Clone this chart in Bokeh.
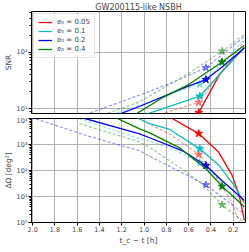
from bokeh.plotting import figure
from bokeh.models import Range1d, FixedTicker, NumeralTickFormatter, Legend, LegendItem
from bokeh.layouts import column
from bokeh.embed import file_html
from bokeh.resources import INLINE

# ---------------- data ----------------
labels = ["e₀ = 0.05", "e₀ = 0.1", "e₀ = 0.2", "e₀ = 0.4"]
colors = ["#ff0000", "#00bfbf", "#0000ff", "#008000"]

# SNR, solid (first network)
t_snr_r = [0.9, 0.51, 0.32, 0.1]
snr_r = [2.5, 8.5, 41, 122]
t_snr_c = [1.2, 0.97, 0.5, 0.32, 0.1]
snr_c = [5.5, 8.1, 16.6, 41, 122]
t_snr_b = [1.6, 1.28, 1.01, 0.62, 0.445, 0.30, 0.1]
snr_b = [4.5, 7.2, 11.6, 24.3, 32.7, 54.5, 119]
t_snr_g = [1.3, 1.07, 0.82, 0.61, 0.30, 0.1]
snr_g = [4.5, 8.1, 16.2, 26, 67, 133]

# SNR, dashed (second network)
t_snr_r_d = [1.2, 0.82, 0.51, 0.32, 0.1]
snr_r_d = [5, 8.3, 12.9, 41, 160]
t_snr_c_d = [1.58, 1.04, 0.7, 0.5, 0.3, 0.1]
snr_c_d = [5, 11.5, 20, 27, 62, 170]
t_snr_b_d = [2.0, 1.58, 1.04, 0.744, 0.445, 0.1]
snr_b_d = [4.2, 7.2, 17.4, 29, 53, 190]
t_snr_g_d = [1.58, 1.415, 1.04, 0.594, 0.30, 0.1]
snr_g_d = [5.5, 7.2, 13.2, 43, 104, 205]

# sky area, solid
t_dom_r = [0.9, 0.76, 0.51, 0.33, 0.21, 0.15, 0.1]
dom_r = [25000, 10700, 2630, 500, 65, 12.6, 1.2]
t_dom_c = [1.3, 1.04, 0.95, 0.77, 0.5, 0.33, 0.19, 0.1]
dom_c = [30000, 9800, 6300, 3800, 680, 160, 26, 5.5]
t_dom_b = [1.8, 1.53, 1.04, 0.95, 0.65, 0.445, 0.3, 0.2, 0.1]
dom_b = [25000, 10000, 2570, 1820, 560, 155, 40, 17, 7]
t_dom_g = [1.5, 1.24, 1.04, 0.95, 0.68, 0.445, 0.3, 0.1]
dom_g = [50000, 10000, 4000, 2800, 740, 117, 24.5, 4]

# sky area, dashed
t_dom_r_d = [1.1, 0.77, 0.505, 0.356, 0.236, 0.147, 0.12]
dom_r_d = [12600, 2500, 415, 60, 8.9, 1.17, 0.5]
t_dom_c_d = [1.58, 1.04, 0.95, 0.71, 0.5, 0.3, 0.1]
dom_c_d = [9800, 1660, 1350, 560, 200, 35, 3.5]
t_dom_b_d = [2.1, 1.98, 1.5, 1.04, 0.95, 0.445, 0.1]
dom_b_d = [12600, 10000, 2100, 575, 355, 28, 2.1]
t_dom_g_d = [1.58, 1.04, 0.95, 0.654, 0.475, 0.3, 0.117, 0.1]
dom_g_d = [6300, 1260, 780, 110, 29, 4.8, 1.17, 0.9]

# star markers
star_t = [0.51, 0.5, 0.445, 0.3]
star_snr = [8.5, 16.6, 32.7, 67]
star_snr_d = [12.9, 27, 53, 104]
star_dom = [2630, 680, 155, 24.5]
star_dom_d = [415, 200, 28, 4.8]

x_ticks = [2.0, 1.8, 1.6, 1.4, 1.2, 1.0, 0.8, 0.6, 0.4, 0.2]
snr_ticks = [10, 100]
dom_ticks = [1, 10, 100, 1000, 10000]
sup = {1: "10⁰", 10: "10¹", 100: "10²", 1000: "10³", 10000: "10⁴"}

FONT = "DejaVu Sans"
x_range = Range1d(2.01, 0.09)


def minors(lo, hi):
    out = []
    d = lo
    while d < hi:
        out += [k * d for k in range(2, 10)]
        d *= 10
    return out


def style(p, yticks, mlo, mhi):
    p.outline_line_color = "black"
    p.outline_line_width = 1
    p.background_fill_color = "white"
    p.border_fill_color = "white"
    p.xgrid.ticker = FixedTicker(ticks=x_ticks)
    yt = FixedTicker(ticks=yticks, minor_ticks=minors(mlo, mhi))
    p.yaxis.ticker = yt
    p.ygrid.ticker = FixedTicker(ticks=yticks)
    for g in (p.xgrid, p.ygrid):
        g.grid_line_color = "#b0b0b0"
        g.grid_line_width = 1
    p.yaxis.axis_line_color = None
    p.yaxis.major_tick_out = 3
    p.yaxis.major_tick_in = 0
    p.yaxis.minor_tick_out = 2
    p.yaxis.minor_tick_in = 0
    p.yaxis.major_label_standoff = 1
    p.yaxis.axis_label_standoff = 1
    p.yaxis.major_label_text_font = FONT
    p.yaxis.major_label_text_font_size = "6.5px"
    p.yaxis.axis_label_text_font = FONT
    p.yaxis.axis_label_text_font_size = "7.5px"
    p.yaxis.axis_label_text_font_style = "normal"
    p.yaxis.major_label_overrides = sup


# ---------------- top panel: SNR ----------------
p1 = figure(frame_width=214, frame_height=102, x_range=x_range,
            y_range=Range1d(8.2, 525), y_axis_type="log",
            output_backend="svg", toolbar_location=None,
            min_border_left=24, min_border_right=3, min_border_top=0, min_border_bottom=3,
            title="GW200115-like NSBH")
p1.title.text_font = FONT
p1.title.text_font_size = "8px"
p1.title.text_font_style = "normal"
p1.title.align = "center"
p1.title.standoff = 0
p1.title.offset = 0
p1.xaxis.visible = False
style(p1, snr_ticks, 1, 1000)
p1.yaxis.axis_label = "SNR"

solid_snr = [(t_snr_r, snr_r), (t_snr_c, snr_c), (t_snr_b, snr_b), (t_snr_g, snr_g)]
dash_snr = [(t_snr_r_d, snr_r_d), (t_snr_c_d, snr_c_d), (t_snr_b_d, snr_b_d), (t_snr_g_d, snr_g_d)]
items = []
for i, c in enumerate(colors):
    td, vd = dash_snr[i]
    p1.line(td, vd, line_color=c, line_alpha=0.45, line_width=1.1, line_dash="3 2")
for i, c in enumerate(colors):
    ts, vs = solid_snr[i]
    r = p1.line(ts, vs, line_color=c, line_width=1.3)
    items.append(LegendItem(label=labels[i], renderers=[r]))
    p1.scatter([star_t[i]], [star_snr_d[i]], marker="star", size=8, fill_color=c,
               line_color=c, fill_alpha=0.45, line_alpha=0.45)
    p1.scatter([star_t[i]], [star_snr[i]], marker="star", size=8, fill_color=c, line_color=c)

legend = Legend(items=items, location="top_left")
legend.label_text_font = FONT
legend.label_text_font_size = "7px"
legend.glyph_width = 14
legend.glyph_height = 8
legend.label_height = 8
legend.label_standoff = 5
legend.spacing = 1
legend.padding = 4
legend.margin = 2
legend.border_line_color = "#cccccc"
legend.background_fill_alpha = 0.85
p1.add_layout(legend)

# ---------------- bottom panel: sky area ----------------
p2 = figure(frame_width=214, frame_height=104, x_range=x_range,
            y_range=Range1d(1, 1e4), y_axis_type="log",
            output_backend="svg", toolbar_location=None,
            min_border_left=24, min_border_right=3, min_border_top=2, min_border_bottom=0)
style(p2, dom_ticks, 1, 10000)
p2.yaxis.axis_label = "ΔΩ [deg²]"
p2.xaxis.ticker = FixedTicker(ticks=x_ticks)
p2.xaxis.formatter = NumeralTickFormatter(format="0.0")
p2.xaxis.axis_line_color = None
p2.xaxis.major_tick_out = 3
p2.xaxis.major_tick_in = 0
p2.xaxis.minor_tick_out = 0
p2.xaxis.major_label_standoff = 1
p2.xaxis.axis_label_standoff = 1
p2.xaxis.major_label_text_font = FONT
p2.xaxis.major_label_text_font_size = "6.5px"
p2.xaxis.axis_label = "t_c − t [h]"
p2.xaxis.axis_label_text_font = FONT
p2.xaxis.axis_label_text_font_size = "7.5px"
p2.xaxis.axis_label_text_font_style = "normal"

solid_dom = [(t_dom_r, dom_r), (t_dom_c, dom_c), (t_dom_b, dom_b), (t_dom_g, dom_g)]
dash_dom = [(t_dom_r_d, dom_r_d), (t_dom_c_d, dom_c_d), (t_dom_b_d, dom_b_d), (t_dom_g_d, dom_g_d)]
for i, c in enumerate(colors):
    td, vd = dash_dom[i]
    p2.line(td, vd, line_color=c, line_alpha=0.45, line_width=1.1, line_dash="3 2")
for i, c in enumerate(colors):
    ts, vs = solid_dom[i]
    p2.line(ts, vs, line_color=c, line_width=1.3)
    p2.scatter([star_t[i]], [star_dom_d[i]], marker="star", size=8, fill_color=c,
               line_color=c, fill_alpha=0.45, line_alpha=0.45)
    p2.scatter([star_t[i]], [star_dom[i]], marker="star", size=8, fill_color=c, line_color=c)

layout = column(p1, p2, spacing=0)
open("out.html", "w").write(file_html(layout, INLINE))
